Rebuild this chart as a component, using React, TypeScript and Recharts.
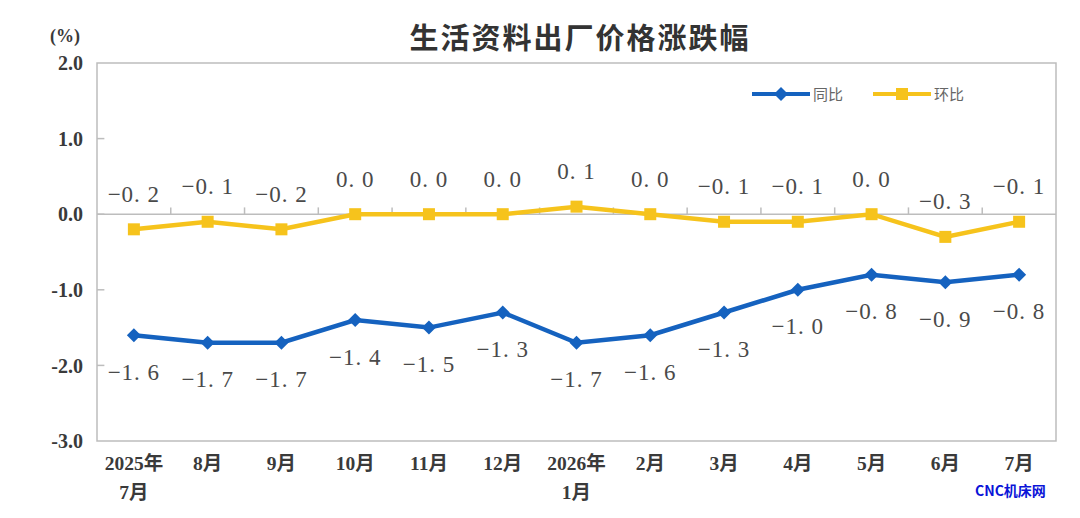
import React from "react";
import {
  LineChart,
  Line,
  XAxis,
  YAxis,
  ReferenceLine,
  ReferenceArea,
  LabelList,
} from "recharts";

const categories = [
  "2025年\n7月",
  "8月",
  "9月",
  "10月",
  "11月",
  "12月",
  "2026年\n1月",
  "2月",
  "3月",
  "4月",
  "5月",
  "6月",
  "7月",
];
const yoyValues = [-1.6, -1.7, -1.7, -1.4, -1.5, -1.3, -1.7, -1.6, -1.3, -1.0, -0.8, -0.9, -0.8];
const momValues = [-0.2, -0.1, -0.2, 0.0, 0.0, 0.0, 0.1, 0.0, -0.1, -0.1, 0.0, -0.3, -0.1];
const yTicks = [-3, -2, -1, 0, 1, 2];

const BLUE = "#1562bf";
const YELLOW = "#f6c31c";
const GRID = "#bdbdbd";
const TEXT = "#3a3a3a";
const SERIF = "'Liberation Serif', 'Noto Sans CJK SC', serif";

const data = categories.map((label, i) => ({
  x: i,
  label,
  yoy: yoyValues[i],
  mom: momValues[i],
}));

// "−1. 4" style, like the source's wide-spaced numerals
const fmt = (v: number) => {
  const s = Math.abs(v).toFixed(1).replace(".", ". ");
  return (v < 0 ? "\u2212" : "") + s;
};

const Diamond = (props: any) => {
  const { cx, cy } = props;
  if (cx == null || cy == null) return null;
  const r = 7;
  return (
    <polygon
      points={`${cx},${cy - r} ${cx + r},${cy} ${cx},${cy + r} ${cx - r},${cy}`}
      fill={BLUE}
    />
  );
};

const Square = (props: any) => {
  const { cx, cy } = props;
  if (cx == null || cy == null) return null;
  return <rect x={cx - 6} y={cy - 6} width={12} height={12} fill={YELLOW} />;
};

const makeLabel = (offset: number) => (props: any) => {
  const { x, y, value } = props;
  return (
    <text
      x={x}
      y={y + offset}
      textAnchor="middle"
      dominantBaseline="central"
      fontFamily={SERIF}
      fontSize={23}
      letterSpacing={1}
      fill="#4a4a4a"
    >
      {fmt(value)}
    </text>
  );
};

const XTick = (props: any) => {
  const { x, y, payload } = props;
  const lines = String(categories[payload.value] ?? "").split("\n");
  return (
    <g>
      {lines.map((line, i) => (
        <text
          key={i}
          x={x}
          y={y + 29 + i * 29}
          textAnchor="middle"
          fontFamily={SERIF}
          fontWeight="bold"
          fontSize={19.5}
          fill={TEXT}
        >
          {line}
        </text>
      ))}
    </g>
  );
};

const LegendBox = () => (
  <div
    style={{
      position: "absolute",
      left: 752,
      top: 86,
      display: "flex",
      alignItems: "center",
      fontFamily: "'Noto Sans CJK SC', sans-serif",
      fontSize: 15,
      lineHeight: "16px",
      color: "#666",
    }}
  >
    <svg width={58} height={16}>
      <line x1={0} y1={8} x2={58} y2={8} stroke={BLUE} strokeWidth={4} />
      <polygon points="29,1 36,8 29,15 22,8" fill={BLUE} />
    </svg>
    <span style={{ marginLeft: 3, marginRight: 30 }}>同比</span>
    <svg width={58} height={16}>
      <line x1={0} y1={8} x2={58} y2={8} stroke={YELLOW} strokeWidth={4} />
      <rect x={23} y={2} width={12} height={12} fill={YELLOW} />
    </svg>
    <span style={{ marginLeft: 3 }}>环比</span>
  </div>
);

export default function App() {
  return (
    <div style={{ position: "absolute", left: 0, top: 0, width: 1080, height: 518, background: "#fff" }}>
      <div
        style={{
          position: "absolute",
          left: 0,
          width: 1160,
          top: 15,
          textAlign: "center",
          fontFamily: "'Noto Sans CJK SC', sans-serif",
          fontWeight: "bold",
          fontSize: 29,
          letterSpacing: 2,
          color: "#333",
        }}
      >
        生活资料出厂价格涨跌幅
      </div>
      <div
        style={{
          position: "absolute",
          left: 50,
          top: 26,
          fontFamily: SERIF,
          fontWeight: "bold",
          fontSize: 18,
          color: TEXT,
        }}
      >
        (%)
      </div>
      <LineChart
        width={1080}
        height={518}
        data={data}
        margin={{ top: 63, right: 24, bottom: 0, left: 17 }}
      >
        <XAxis
          dataKey="x"
          type="number"
          domain={[-0.5, 12.5]}
          ticks={data.map((d) => d.x)}
          interval={0}
          axisLine={false}
          tickLine={false}
          tickSize={0}
          tickMargin={0}
          height={77}
          tick={<XTick />}
        />
        <YAxis
          type="number"
          domain={[-3, 2]}
          ticks={yTicks}
          width={80}
          axisLine={false}
          tickLine={false}
          tickSize={0}
          tickMargin={14}
          tickFormatter={(v: number) => v.toFixed(1)}
          tick={{ fontFamily: SERIF, fontWeight: "bold", fontSize: 20, fill: TEXT }}
        />
        <ReferenceArea x1={-0.5} x2={12.5} y1={-3} y2={2} fill="none" stroke={GRID} strokeWidth={1.5} />
        <ReferenceLine y={0} stroke={GRID} strokeWidth={1.5} />
        {yTicks.slice(1, -1).map((t) => (
          <ReferenceLine
            key={"yt" + t}
            segment={[
              { x: -0.5, y: t },
              { x: -0.4, y: t },
            ]}
            stroke={GRID}
            strokeWidth={1.5}
          />
        ))}
        {data.slice(0, -1).map((d) => (
          <ReferenceLine
            key={"xt" + d.x}
            segment={[
              { x: d.x + 0.5, y: 0 },
              { x: d.x + 0.5, y: 0.09 },
            ]}
            stroke={GRID}
            strokeWidth={1.5}
          />
        ))}
        <Line
          dataKey="yoy"
          name="同比"
          stroke={BLUE}
          strokeWidth={4.5}
          dot={<Diamond />}
          activeDot={false}
          isAnimationActive={false}
        >
          <LabelList dataKey="yoy" content={makeLabel(37)} />
        </Line>
        <Line
          dataKey="mom"
          name="环比"
          stroke={YELLOW}
          strokeWidth={4.5}
          dot={<Square />}
          activeDot={false}
          isAnimationActive={false}
        >
          <LabelList dataKey="mom" content={makeLabel(-35)} />
        </Line>
      </LineChart>
      <LegendBox />
      <div
        style={{
          position: "absolute",
          left: 975,
          top: 480,
          fontFamily: "'Noto Sans CJK SC', sans-serif",
          fontWeight: "bold",
          fontSize: 14,
          color: "#0a14d8",
        }}
      >
        CNC机床网
      </div>
    </div>
  );
}
